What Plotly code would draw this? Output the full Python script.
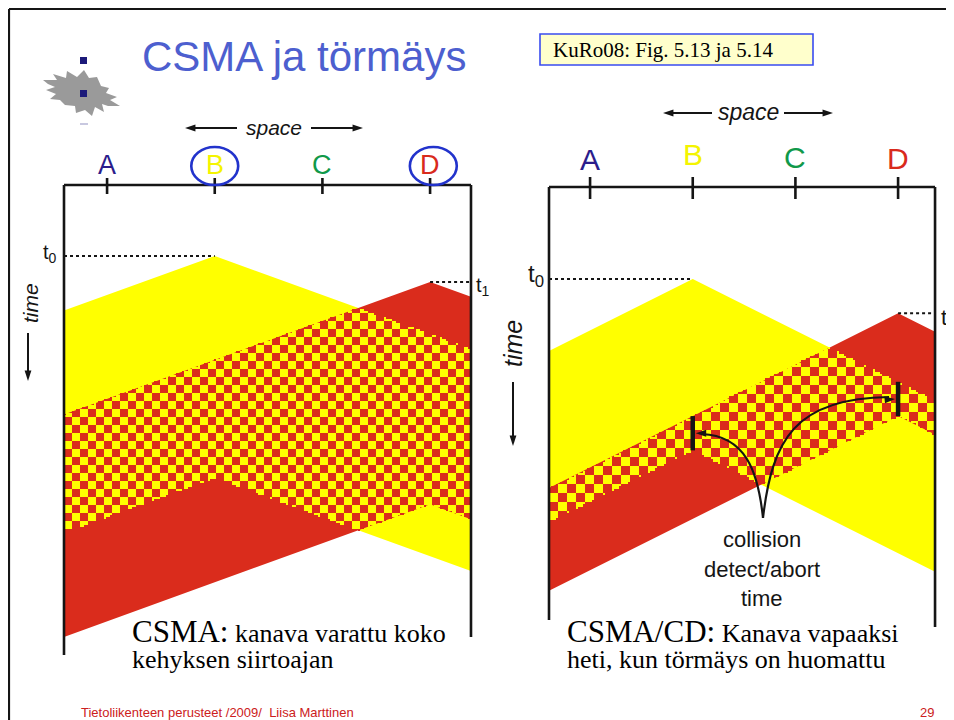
import math
import numpy as np
import plotly.graph_objects as go

W, H = 954, 720          # browser window
OFF = 8                  # default page margin of the html body
FW, FH = W - OFF, H - OFF

# ---------------- data ----------------
stations = ["A", "B", "C", "D"]
station_x = [0.0, 1.0, 2.0, 3.0]            # space units (station spacing = 1)
station_colors = ["#2b1d8c", "#f4f400", "#10994a", "#d92a1c"]
senders = ["B", "D"]                          # transmitting stations
start_times = [0.0, 0.667]                    # t0 (B), t1 (D); time unit = one-hop propagation delay
csma_frame_times = [5.7, 5.7]                 # CSMA: whole frame is sent
cd_jam_times = [0.667, 0.667]                 # CSMA/CD: detection -> abort
signal_colors = ["#ffff00", "#da2c1c"]        # B signal, D signal

# ---------------- style ----------------
FONT_SANS = "Liberation Sans, Arial, sans-serif"
FONT_NARROW = "Liberation Sans Narrow, Arial Narrow, Liberation Sans, Arial, sans-serif"
FONT_SERIF = "Liberation Serif, Times New Roman, serif"
INK = "#151515"


def fx(px):
    return (px - OFF) / FW


def fy(py):
    return 1 - (py - OFF) / FH


def P(px, py):
    return f"{fx(px):.5f},{fy(py):.5f}"


diagrams = [
    dict(name="csma", xa="x", ya="y", ax0=107.07, ux=107.67, ay0=256.0, ut=39.0,
         xl=-0.4, xr=3.38, dom_px=(50, 486), dom_py=(166, 672),
         top_py=185, lend_py=655, rend_py=637, sq=8, tick=(7, 9)),
    dict(name="cd", xa="x2", ya="y2", ax0=590.07, ux=102.67, ay0=279.0, ut=51.4,
         xl=-0.4, xr=3.36, dom_px=(535, 950), dom_py=(166, 640),
         top_py=187, lend_py=620, rend_py=627, sq=9, tick=(10, 12)),
]


def to_x(d, px):
    return (px - d["ax0"]) / d["ux"]


def to_t(d, py):
    return (py - d["ay0"]) / d["ut"]


sender_x = [station_x[stations.index(s)] for s in senders]


def windows(kind):
    res = []
    for i in range(len(senders)):
        ts = start_times[i]
        if kind == "csma":
            te = ts + csma_frame_times[i]
            det = None
        else:
            j = 1 - i
            det = start_times[j] + abs(sender_x[i] - sender_x[j])
            te = det + cd_jam_times[i]
        res.append((sender_x[i], ts, te, det))
    return res


fig = go.Figure()
shapes = []
annotations = []
layout_axes = {}
arrow_list = []   # (tail_px, tail_py, head_px, head_py, draw_shaft)

for k, d in enumerate(diagrams):
    xa, ya = d["xa"], d["ya"]
    xl, xr = d["xl"], d["xr"]
    ttop = to_t(d, d["top_py"])
    tl_end = to_t(d, d["lend_py"])
    tr_end = to_t(d, d["rend_py"])
    wins = windows(d["name"])

    # solid signal bands
    for (xs, ts, te, det), col in zip(wins, signal_colors):
        path = (f"M {xl},{ts + xs - xl} L {xs},{ts} L {xr},{ts + xr - xs} "
                f"L {xr},{te + xr - xs} L {xs},{te} L {xl},{te + xs - xl} Z")
        shapes.append(dict(type="path", path=path, xref=xa, yref=ya, layer="below",
                           fillcolor=col, line=dict(width=0)))

    # collision (overlap) checkerboard
    cell = d["sq"] / 4.0
    dx, dt = cell / d["ux"], cell / d["ut"]
    nx = int(np.ceil((xr - xl) / dx))
    ny = int(np.ceil((max(tl_end, tr_end) - ttop) / dt))
    xc = xl + (np.arange(nx) + 0.5) * dx
    tc = ttop + (np.arange(ny) + 0.5) * dt
    XX, TT = np.meshgrid(xc, tc)
    mask = np.ones_like(XX, dtype=bool)
    for (xs, ts, te, det) in wins:
        dist = np.abs(XX - xs)
        mask &= (TT >= ts + dist) & (TT <= te + dist)
    mask &= XX <= xr
    I, J = np.meshgrid(np.arange(nx), np.arange(ny))
    parity = ((I // 4) + (J // 4)) % 2
    z = [[(int(parity[r, c]) if mask[r, c] else None) for c in range(nx)] for r in range(ny)]
    fig.add_trace(go.Heatmap(
        z=z, x0=xc[0], dx=dx, y0=tc[0], dy=dt, xaxis=xa, yaxis=ya,
        zmin=0, zmax=1, zsmooth=False, showscale=False, hoverinfo="skip",
        colorscale=[[0, signal_colors[0]], [0.5, signal_colors[0]],
                    [0.5, signal_colors[1]], [1, signal_colors[1]]]))

    # frame of the diagram
    fig.add_trace(go.Scatter(
        x=[xl, xr, None, xl, xl, None, xr, xr],
        y=[ttop, ttop, None, ttop, tl_end, None, ttop, tr_end],
        mode="lines", line=dict(color=INK, width=2.6), xaxis=xa, yaxis=ya,
        hoverinfo="skip", showlegend=False))
    # station ticks
    a, b = d["tick"]
    tx, ty = [], []
    for sx in station_x:
        tx += [sx, sx, None]
        ty += [ttop - a / d["ut"], ttop + b / d["ut"], None]
    fig.add_trace(go.Scatter(x=tx, y=ty, mode="lines", line=dict(color=INK, width=2.6),
                             xaxis=xa, yaxis=ya, hoverinfo="skip", showlegend=False))
    # dotted start-time markers t0 / t1
    fig.add_trace(go.Scatter(
        x=[xl, sender_x[0], None, sender_x[1], xr],
        y=[start_times[0], start_times[0], None, start_times[1], start_times[1]],
        mode="lines", line=dict(color=INK, width=2, dash="dot"), xaxis=xa, yaxis=ya,
        hoverinfo="skip", showlegend=False))
    # abort bars (CSMA/CD)
    if d["name"] == "cd":
        bx, by = [], []
        for (xs, ts, te, det) in wins:
            bx += [xs, xs, None]
            by += [det, te, None]
        fig.add_trace(go.Scatter(x=bx, y=by, mode="lines", line=dict(color=INK, width=4.5),
                                 xaxis=xa, yaxis=ya, hoverinfo="skip", showlegend=False))
        # arrow heads pointing at the abort bars (pixel positions from the data)
        for (xs, ts, te, det), sgn in zip(wins, [1, -1]):
            hx = d["ax0"] + xs * d["ux"] + sgn * 3
            hy = d["ay0"] + (det + te) / 2 * d["ut"]
            arrow_list.append((hx + sgn * 10, hy + (0 if sgn > 0 else 1.0), hx, hy, False))

    xr_ax = [to_x(d, d["dom_px"][0]), to_x(d, d["dom_px"][1])]
    yr_ax = [to_t(d, d["dom_py"][1]), to_t(d, d["dom_py"][0])]
    sfx = "" if k == 0 else str(k + 1)
    layout_axes["xaxis" + sfx] = dict(domain=[fx(d["dom_px"][0]), fx(d["dom_px"][1])],
                                      range=xr_ax, visible=False, fixedrange=True,
                                      anchor="y" + sfx)
    layout_axes["yaxis" + sfx] = dict(domain=[fy(d["dom_py"][1]), fy(d["dom_py"][0])],
                                      range=yr_ax, visible=False, fixedrange=True,
                                      anchor="x" + sfx)

# overlay axis in page pixels for decorations (arrows)
layout_axes["xaxis3"] = dict(domain=[0, 1], range=[OFF, W], visible=False,
                             fixedrange=True, anchor="y3")
layout_axes["yaxis3"] = dict(domain=[0, 1], range=[H, OFF], visible=False,
                             fixedrange=True, anchor="x3")

# ---------------- station labels ----------------
left_label_py = [165, 165, 165, 165]
right_label_py = [160, 154, 157, 159]
for i, s in enumerate(stations):
    annotations.append(dict(x=station_x[i], y=fy(left_label_py[i]), xref="x", yref="paper",
                            text=s, showarrow=False, xanchor="center", yanchor="middle",
                            font=dict(family=FONT_SANS, size=27, color=station_colors[i])))
    annotations.append(dict(x=station_x[i], y=fy(right_label_py[i]), xref="x2", yref="paper",
                            text=s, showarrow=False, xanchor="center", yanchor="middle",
                            font=dict(family=FONT_NARROW, size=30, color=station_colors[i])))
# circles around the senders in the CSMA diagram
for sx, cx_off in zip(sender_x, [0.0, 0.03]):
    shapes.append(dict(type="circle", xref="x", yref="paper",
                       x0=sx + cx_off - 0.218, x1=sx + cx_off + 0.218,
                       y0=fy(185), y1=fy(147), line=dict(color="#2233cc", width=2.6)))


# ---------------- texts ----------------
def txt(text, px, py, size, family=FONT_SANS, color=INK, xanchor="left", angle=0):
    annotations.append(dict(x=fx(px), y=fy(py), xref="paper", yref="paper", text=text,
                            showarrow=False, xanchor=xanchor, yanchor="middle",
                            textangle=angle, font=dict(family=family, size=size, color=color)))


txt("CSMA ja törmäys", 140, 57, 42, color="#4d5fcf")
shapes.append(dict(type="rect", xref="paper", yref="paper", x0=fx(540), x1=fx(813),
                   y0=fy(65), y1=fy(34), fillcolor="#ffffcc",
                   line=dict(color="#3a4cf0", width=1.6)))
txt("KuRo08: Fig. 5.13 ja 5.14", 551, 50, 21, family=FONT_SERIF, color="#000000")

txt("<i>space</i>", 274, 127, 21, xanchor="center")
arrow_list += [(237, 128, 185, 128, True), (311, 128, 363, 128, True)]
txt("<i>space</i>", 748, 112, 23, family=FONT_NARROW, xanchor="center")
arrow_list += [(712, 113, 663, 113, True), (784, 113, 833, 113, True)]

txt("<i>time</i>", 30, 303, 21, xanchor="center", angle=-90)
arrow_list += [(28, 333, 28, 381, True)]
txt("<i>time</i>", 513, 344, 25, family=FONT_NARROW, xanchor="center", angle=-90)
arrow_list += [(513, 382, 513, 446, True)]

txt("t<sub>0</sub>", 41, 253, 20)
txt("t<sub>1</sub>", 474, 287, 20)
txt("t<sub>0</sub>", 526, 275, 24, family=FONT_NARROW)
txt("t<sub>1</sub>", 939, 319, 22, family=FONT_NARROW)

txt("<span style='font-size:31px'>CSMA:</span> kanava varattu koko", 130, 631, 26,
    family=FONT_SERIF, color="#000000")
txt("kehyksen siirtoajan", 130, 659, 26, family=FONT_SERIF, color="#000000")
txt("<span style='font-size:31px'>CSMA/CD:</span> Kanava vapaaksi", 565, 631, 26,
    family=FONT_SERIF, color="#000000")
txt("heti, kun törmäys on huomattu", 565, 659, 26, family=FONT_SERIF, color="#000000")

txt("collision", 762, 539, 22, family=FONT_NARROW, xanchor="center")
txt("detect/abort", 762, 569, 22, family=FONT_NARROW, xanchor="center")
txt("time", 762, 598, 22, family=FONT_NARROW, xanchor="center")

# curved pointers from the label to the abort bars
shapes.append(dict(type="path", xref="paper", yref="paper",
                   path=f"M {P(763, 518)} C {P(758, 470)} {P(745, 436)} {P(702, 434)}",
                   line=dict(color=INK, width=2.2)))
shapes.append(dict(type="path", xref="paper", yref="paper",
                   path=f"M {P(763, 518)} C {P(772, 440)} {P(795, 398)} {P(889, 397)}",
                   line=dict(color=INK, width=2.2)))

txt("Tietoliikenteen perusteet /2009/\u00a0 Liisa Marttinen", 79, 712, 13, color="#cc2020")
txt("29", 918, 712, 13, color="#cc2020")

# arrows: shafts as one line trace, heads as rotated arrow markers
sx_, sy_, hx_, hy_, ang_ = [], [], [], [], []
for (x0, y0, x1, y1, shaft) in arrow_list:
    L = math.hypot(x1 - x0, y1 - y0)
    ux_, uy_ = (x1 - x0) / L, (y1 - y0) / L
    if shaft:
        sx_ += [x0, x1 - ux_ * 6, None]
        sy_ += [y0, y1 - uy_ * 6, None]
    hx_.append(x1)
    hy_.append(y1)
    ang_.append(math.degrees(math.atan2(ux_, -uy_)))
fig.add_trace(go.Scatter(x=sx_, y=sy_, xaxis="x3", yaxis="y3", mode="lines",
                         line=dict(color=INK, width=2), hoverinfo="skip", showlegend=False))
fig.add_trace(go.Scatter(x=hx_, y=hy_, xaxis="x3", yaxis="y3", mode="markers",
                         marker=dict(symbol="arrow", size=11, angle=ang_, color=INK,
                                     line=dict(width=0)),
                         hoverinfo="skip", showlegend=False))

# ---------------- slide decorations ----------------
flame = [(43, 80), (57, 80), (53, 74), (66, 78), (67, 71), (77, 77), (84, 70), (89, 78),
         (97, 77), (101, 86), (109, 88), (106, 93), (117, 97), (110, 100), (120, 106),
         (108, 106), (102, 104), (104, 112), (95, 107), (92, 116), (85, 110), (76, 113),
         (75, 106), (65, 105), (60, 100), (50, 99), (56, 94), (46, 90), (55, 87), (48, 84)]
shapes.append(dict(type="path", xref="paper", yref="paper",
                   path="M " + " L ".join(P(a, b) for a, b in flame) + " Z",
                   fillcolor="#9a9a9a", line=dict(width=0)))
for by in [57, 90]:
    shapes.append(dict(type="rect", xref="paper", yref="paper", x0=fx(80), x1=fx(87),
                       y0=fy(by + 7), y1=fy(by), fillcolor="#1c1a7a", line=dict(width=0)))
shapes.append(dict(type="rect", xref="paper", yref="paper", x0=fx(80), x1=fx(88),
                   y0=fy(125), y1=fy(123), fillcolor="#c8c8e0", line=dict(width=0)))
shapes.append(dict(type="line", xref="paper", yref="paper", x0=fx(9), x1=fx(W + 5),
                   y0=fy(9), y1=fy(9), line=dict(color=INK, width=2.2)))
shapes.append(dict(type="line", xref="paper", yref="paper", x0=fx(9), x1=fx(9),
                   y0=fy(9), y1=fy(H + 5), line=dict(color=INK, width=2.2)))

fig.update_layout(
    width=FW, height=FH, margin=dict(l=0, r=0, t=0, b=0),
    paper_bgcolor="white", plot_bgcolor="rgba(0,0,0,0)",
    showlegend=False, shapes=shapes, annotations=annotations, **layout_axes)

fig.write_html("out.html")
